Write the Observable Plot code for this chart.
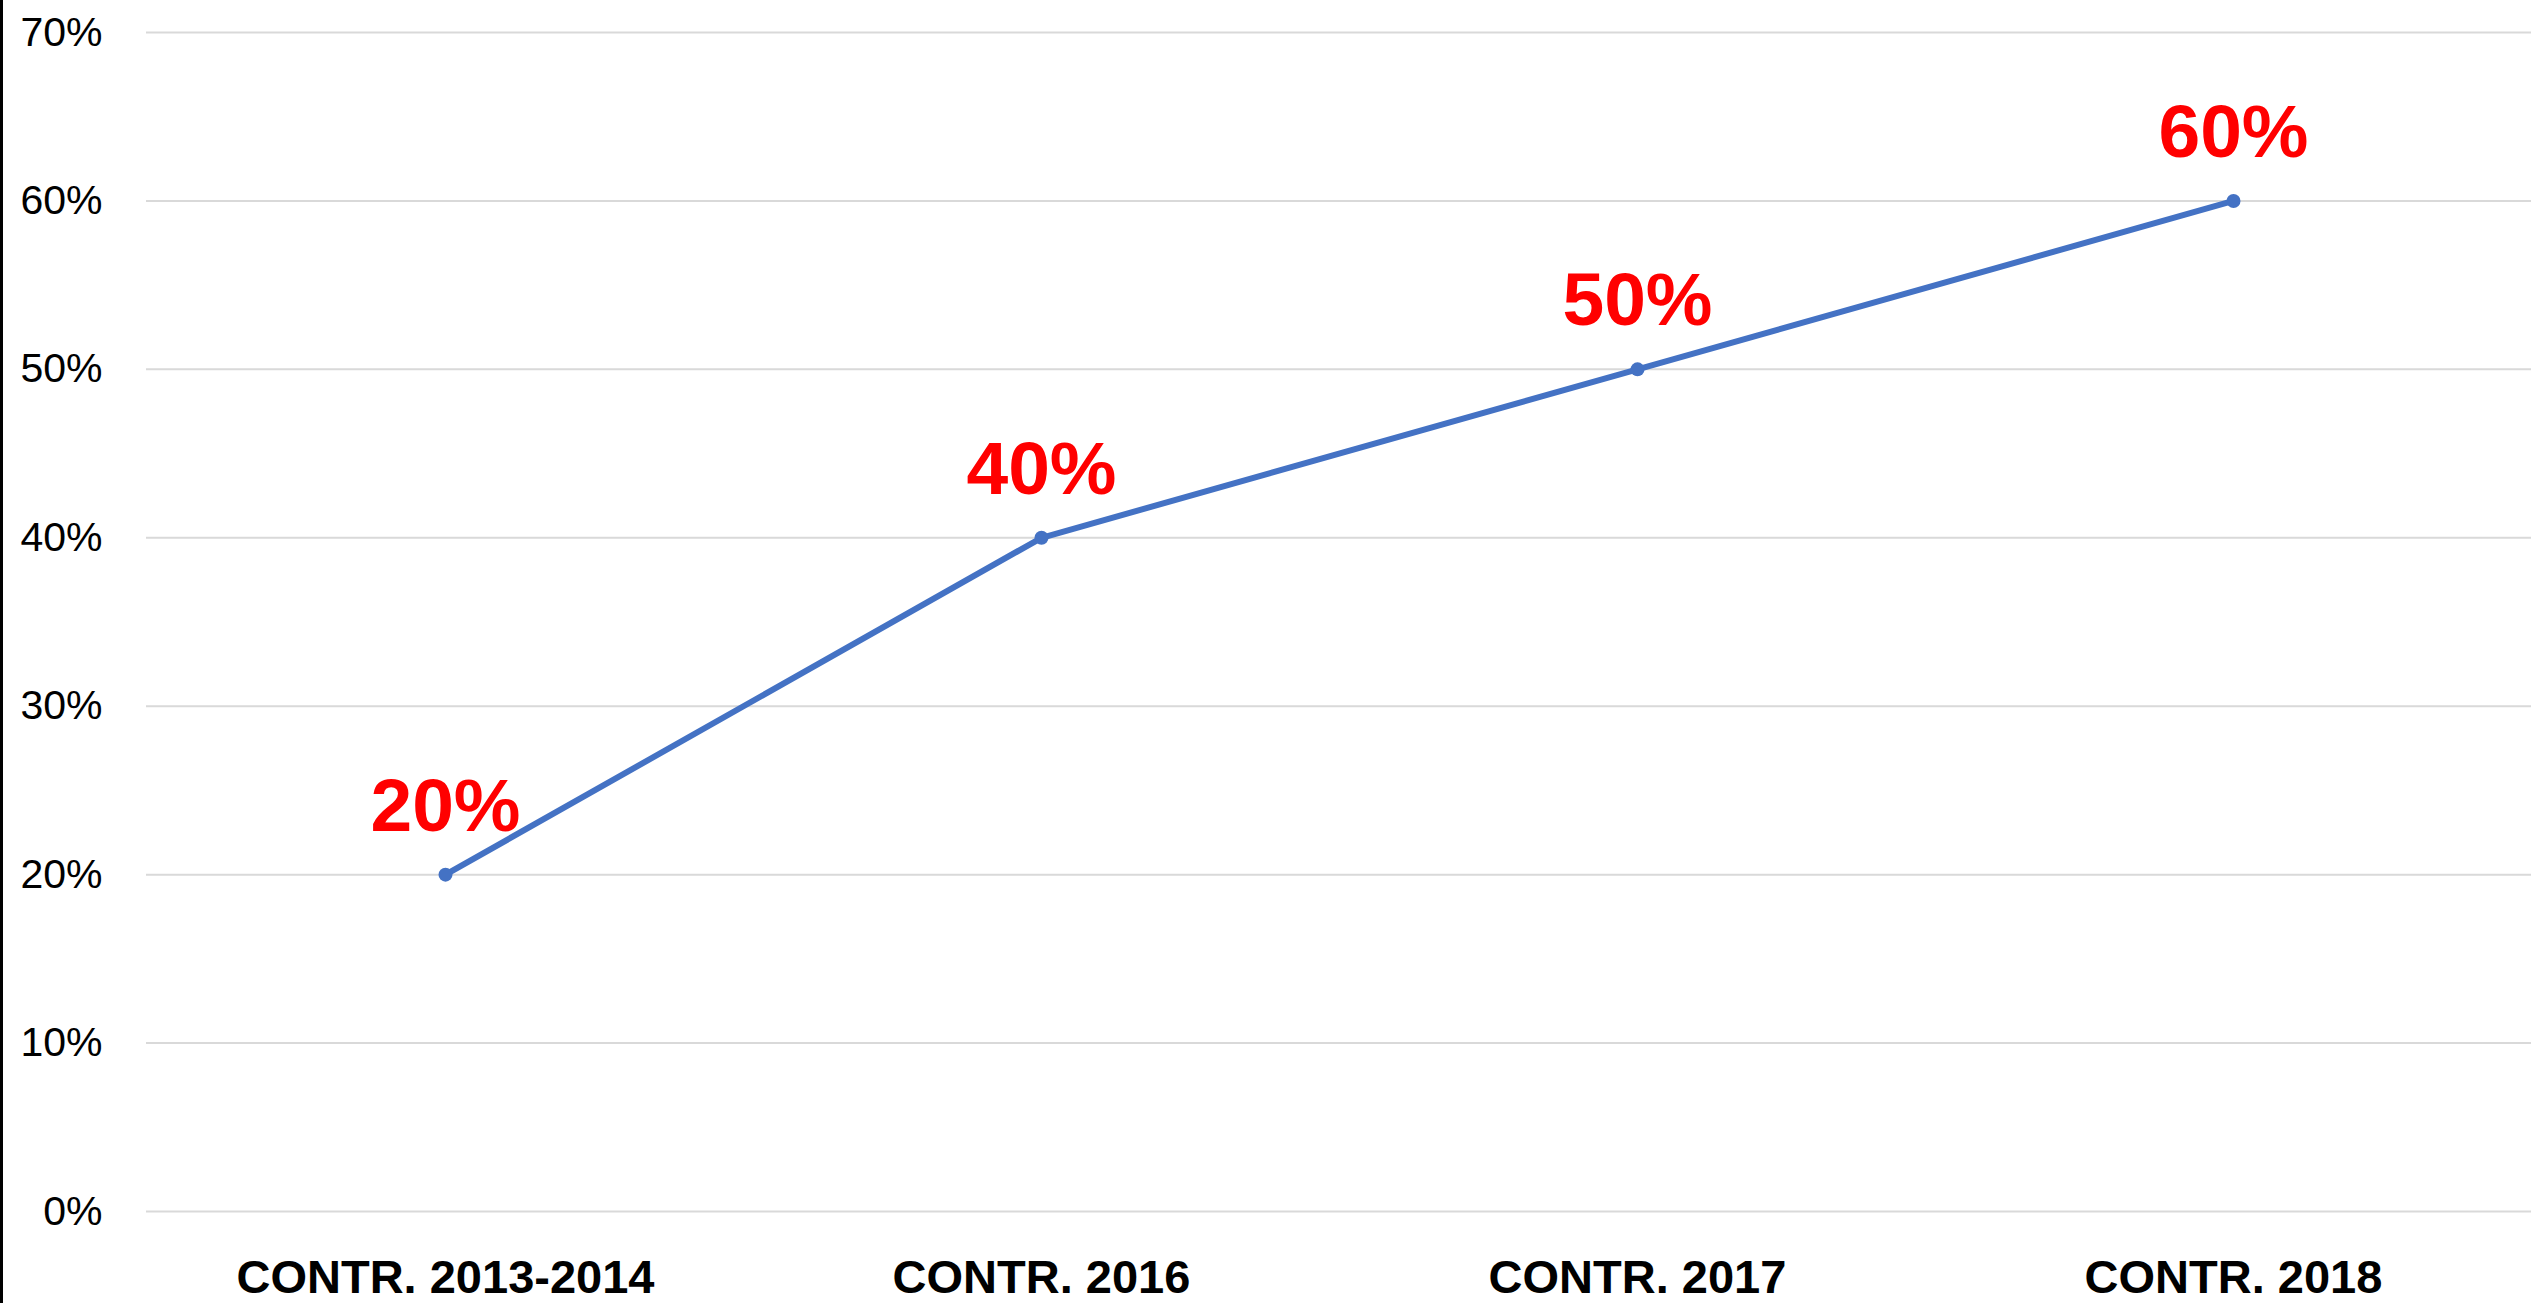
<!DOCTYPE html>
<html>
<head>
<meta charset="utf-8">
<script src="https://cdn.jsdelivr.net/npm/d3@7"></script>
<script src="https://cdn.jsdelivr.net/npm/@observablehq/plot@0.6"></script>
<style>
  html, body { margin: 0; padding: 0; background: #fff; overflow: hidden; }
  #chart { width: 2539px; height: 1303px; box-sizing: border-box; border-left: 3px solid #000; }
</style>
</head>
<body>
<div id="chart"></div>
<script>
const categories = ["CONTR. 2013-2014", "CONTR. 2016", "CONTR. 2017", "CONTR. 2018"];
const values = [0.20, 0.40, 0.50, 0.60];
const yTicks = [0, 0.1, 0.2, 0.3, 0.4, 0.5, 0.6, 0.7];

const data = categories.map((c, i) => ({category: c, value: values[i]}));
const pct = d3.format(".0%");

const chart = Plot.plot({
  width: 2536,
  height: 1303,
  marginLeft: 143,
  marginRight: 8,
  marginTop: 32,
  marginBottom: 92,
  style: { fontFamily: "'Liberation Sans', Arial, sans-serif", background: "#fff", color: "#000" },
  x: { type: "point", domain: categories, padding: 0.5, label: null },
  y: { domain: [0, 0.7], label: null },
  marks: [
    Plot.gridY(yTicks, { stroke: "#d9d9d9", strokeOpacity: 1, strokeWidth: 2 }),
    Plot.axisY(yTicks, { tickFormat: pct, tickSize: 0, tickPadding: 44, fontSize: 41, label: null, fill: "#000" }),
    Plot.axisX({ tickSize: 0, tickPadding: 48, fontSize: 47, fontWeight: "bold", label: null, fill: "#000" }),
    Plot.line(data, { x: "category", y: "value", stroke: "#4472C4", strokeWidth: 6 }),
    Plot.dot(data, { x: "category", y: "value", r: 7, fill: "#4472C4", stroke: "none" }),
    Plot.text(data, { x: "category", y: "value", text: d => pct(d.value), fill: "#ff0000", fontWeight: "bold", fontSize: 75, lineAnchor: "bottom", dy: -44 })
  ]
});
document.getElementById("chart").appendChild(chart);
</script>
</body>
</html>
